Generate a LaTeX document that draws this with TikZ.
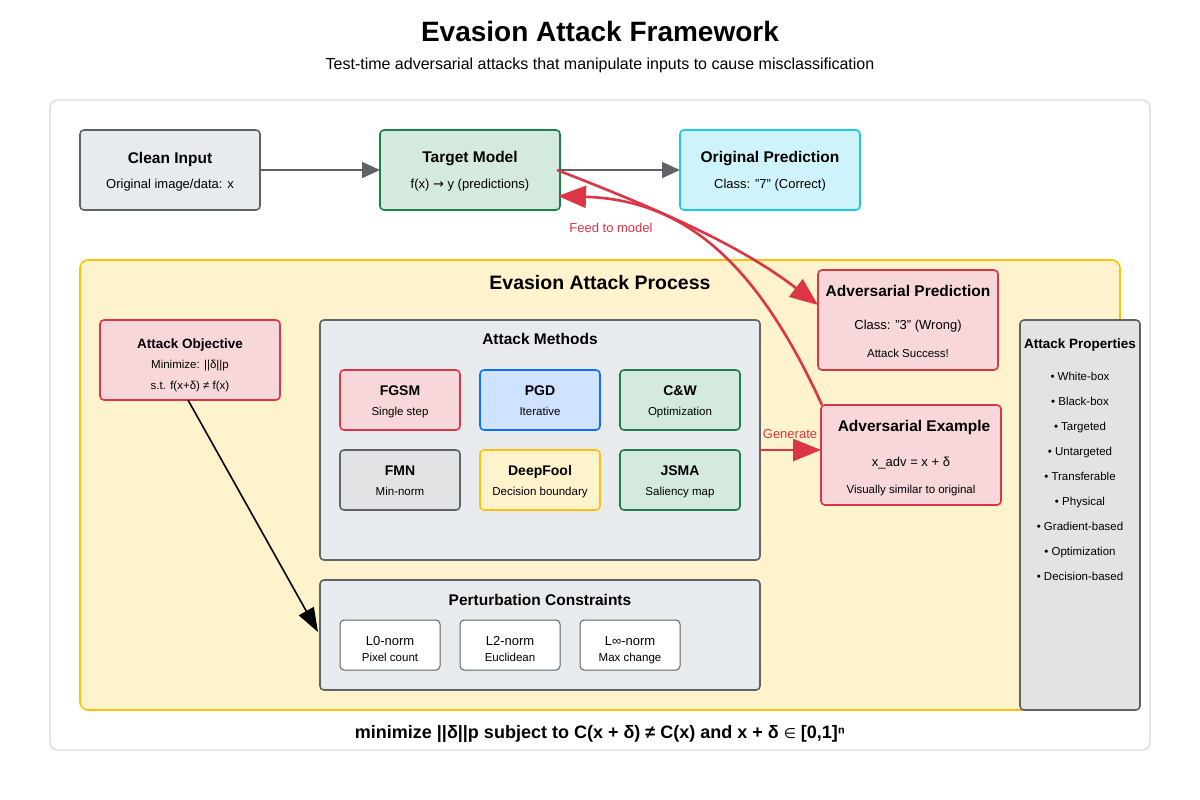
\documentclass[tikz,border=0pt]{standalone}
\usepackage{fontspec}
\setmainfont{Liberation Sans}
\newfontfamily\djv{DejaVu Sans}
\usetikzlibrary{arrows.meta}
\definecolor{gbd}{HTML}{5F6368}\definecolor{gbf}{HTML}{E8EBEE}
\definecolor{grd}{HTML}{1E7E4A}\definecolor{grf}{HTML}{D4EADF}
\definecolor{cyd}{HTML}{1AC8E8}\definecolor{cyf}{HTML}{CFF3FA}
\definecolor{rdd}{HTML}{DC3545}\definecolor{rdf}{HTML}{F8D7DA}
\definecolor{bld}{HTML}{0D6EFD}\definecolor{blf}{HTML}{CFE2FF}
\definecolor{yld}{HTML}{FFC107}\definecolor{ylf}{HTML}{FFF3CD}
\definecolor{pgf}{HTML}{E2E3E5}
\tikzset{
 bx/.style n args={2}{draw=#1,fill=#2,line width=1.6pt,rounded corners=4pt,inner sep=0},
 t/.style={font=\fontsize{15.5}{18}\selectfont\bfseries},
 s/.style={font=\fontsize{13}{16}\selectfont},
 xs/.style={font=\fontsize{11.5}{14}\selectfont},
 ra/.style={draw=rdd,line width=2.6pt,-{Triangle[length=28pt,width=22pt]}},
 ga/.style={draw=gbd,line width=1.6pt,-{Triangle[length=18pt,width=16pt]}},
}
\newcommand{\bxx}[6]{\draw[bx={#5}{#6}] (#1,#2) rectangle (#3,#4);}
\begin{document}
\begin{tikzpicture}[x=1pt,y=-1pt]
\useasboundingbox (0,0) rectangle (1200,800);
\fill[white] (0,0) rectangle (1200,800);
\node[font=\fontsize{28}{32}\selectfont\bfseries] (title) at (600,31) {Evasion Attack Framework};
\node[font=\fontsize{16}{19}\selectfont] (sub) at (600,65) {Test-time adversarial attacks that manipulate inputs to cause misclassification};
\draw[draw=gray!30,line width=1.2pt,rounded corners=8pt] (50,100) rectangle (1150,750);
% top row
\bxx{80}{130}{260}{210}{gbd}{gbf}
\node[t] (ci) at (170,159) {Clean Input};
\node[s] (cis) at (170,185) {Original image/data: x};
\bxx{380}{130}{560}{210}{grd}{grf}
\node[t] (tm) at (470,159) {Target Model};
\node[s] (tms) at (470,185) {f(x) {\djv→} y (predictions)};
\bxx{680}{130}{860}{210}{cyd}{cyf}
\node[t] (op) at (770,159) {Original Prediction};
\node[s] (ops) at (770,185) {Class: "7" (Correct)};
\coordinate (a1) at (260,170); \coordinate (a2) at (380,170);
\coordinate (a3) at (560,170); \coordinate (a4) at (680,170);
\draw[ga] (a1) -- (a2);
\draw[ga] (a3) -- (a4);
% process area
\draw[draw=yld,fill=ylf,line width=1.6pt,rounded corners=8pt] (80,260) rectangle (1120,710);
\node[font=\fontsize{19.5}{22}\selectfont\bfseries] (ep) at (600,283) {Evasion Attack Process};
\bxx{100}{320}{280}{400}{rdd}{rdf}
\node[font=\fontsize{13.5}{16}\selectfont\bfseries] (ao) at (190,345) {Attack Objective};
\node[xs] (ao1) at (190,366) {Minimize: ||δ||p};
\node[xs] (ao2) at (190,387) {s.t. f(x+δ) ≠ f(x)};
% methods
\bxx{320}{320}{760}{560}{gbd}{gbf}
\node[t] (am) at (540,339) {Attack Methods};
\foreach \x/\y/\n/\m/\d/\f [count=\i] in {
 340/370/FGSM/Single step/rdd/rdf, 480/370/PGD/Iterative/bld/blf, 620/370/C\&W/Optimization/grd/grf,
 340/450/FMN/Min-norm/gbd/pgf, 480/450/DeepFool/Decision boundary/yld/ylf, 620/450/JSMA/Saliency map/grd/grf}{
 \draw[bx={\d}{\f}] (\x,\y) rectangle ++(120,60);
 \node[anchor=base,font=\fontsize{14}{17}\selectfont\bfseries] (m\i) at (\x+60,\y+25) {\n};
 \node[anchor=base,xs] (ms\i) at (\x+60,\y+45) {\m};
}
% constraints
\bxx{320}{580}{760}{690}{gbd}{gbf}
\node[t] (pc) at (540,600) {Perturbation Constraints};
\foreach \x/\n/\m [count=\i] in {340/L0-norm/Pixel count, 460/L2-norm/Euclidean, 580/L∞-norm/Max change}{
 \draw[draw=gbd,fill=white,line width=1pt,rounded corners=4pt] (\x,620) rectangle ++(100,50);
 \node[anchor=base,s] (c\i) at (\x+50,645) {\n};
 \node[anchor=base,xs] (cs\i) at (\x+50,661) {\m};
}
% adversarial prediction
\bxx{818}{270}{998}{370}{rdd}{rdf}
\node[t] (apr) at (908,291) {Adversarial Prediction};
\node[s] (apr1) at (908,326) {Class: "3" (Wrong)};
\node[xs] (apr2) at (908,353) {Attack Success!};
% adversarial example
\bxx{821}{405}{1001}{505}{rdd}{rdf}
\node[t] (ae) at (914,427) {Adversarial Example};
\node[s] (ae1) at (911,463) {x\_adv = x + δ};
\node[xs] (ae2) at (911,491) {Visually similar to original};
% properties
\draw[bx={gbd}{pgf}] (1020,320) rectangle (1140,710);
\node[font=\fontsize{13.5}{16}\selectfont\bfseries] (pp) at (1080,345) {Attack Properties};
\foreach \n [count=\i] in {White-box,Black-box,Targeted,Untargeted,Transferable,Physical,Gradient-based,Optimization,Decision-based}{
 \node[xs,anchor=base] (p\i) at (1080,355+25*\i) {• \n};
}
% arrows
\coordinate (s1) at (557,170); \coordinate (e1) at (818,305);
\draw[ra] (s1) .. controls (660,210) and (740,245) .. (e1);
\coordinate (s2) at (822,405); \coordinate (e2) at (558,196);
\draw[ra] (s2) .. controls (760,270) and (690,200) .. (e2);
\node[font=\fontsize{13}{16}\selectfont,text=rdd] (fm) at (611,228) {Feed to model};
\coordinate (g1) at (760,450); \coordinate (g2) at (821,450);
\draw[ra] (g1) -- (g2);
\node[font=\fontsize{13}{16}\selectfont,text=rdd] (gen) at (790,434) {Generate};
\coordinate (o1) at (188,400); \coordinate (o2) at (318,632);
\draw[black,line width=1.6pt,-{Triangle[length=24pt,width=17pt]}] (o1) -- (o2);
\node[font=\fontsize{18}{21}\selectfont\bfseries] (form) at (600,734) {minimize ||δ||p subject to C(x + δ) ≠ C(x) and x + δ {\djv\mdseries\fontsize{14}{16}\selectfont ∈} [0,1]ⁿ};
\end{tikzpicture}
\end{document}
